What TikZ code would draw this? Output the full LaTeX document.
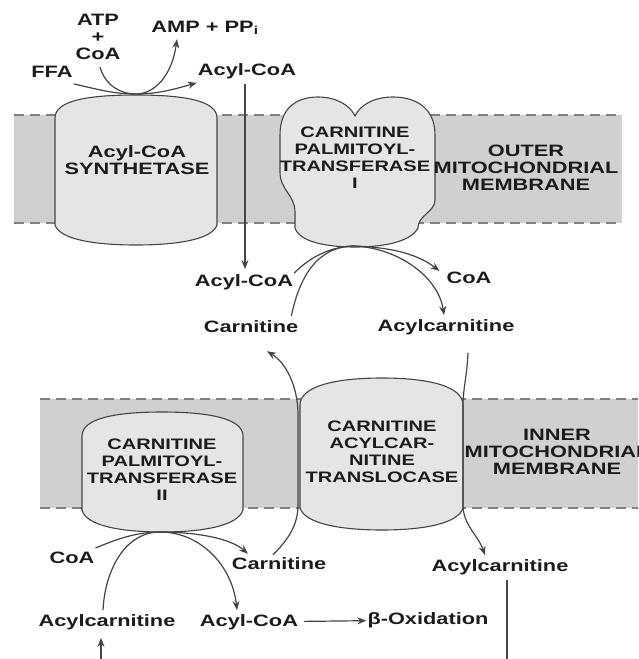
\documentclass[tikz,border=0pt]{standalone}
\usepackage{fontspec}
\setmainfont{Liberation Sans}[FakeStretch=1.32]
\usepackage{tikz}
\usetikzlibrary{arrows.meta}
\usetikzlibrary{backgrounds}
\definecolor{bandgray}{HTML}{D0D0D0}
\definecolor{enzgray}{HTML}{E5E5E5}
\definecolor{linegray}{HTML}{444444}
\definecolor{txtgray}{HTML}{1C1C1C}
\tikzstyle{lbl}=[font=\bfseries\fontsize{16.5}{17}\selectfont, text=txtgray, inner sep=1pt, align=center]
\tikzstyle{enzlbl}=[lbl, font=\bfseries\fontsize{15.2}{17}\selectfont]
\tikzstyle{enzyme}=[fill=enzgray, draw=linegray, line width=1.1pt]
\tikzstyle{band}=[fill=bandgray]
\tikzstyle{dashline}=[draw=gray, line width=1.3pt, dash pattern=on 10pt off 6pt]
\tikzstyle{rxn}=[draw=linegray, line width=1.2pt, -{Stealth[length=9pt,width=7pt]}]

\begin{document}
\begin{tikzpicture}[x=1pt,y=-1pt]
\useasboundingbox (0,0) rectangle (638,659);

\begin{pgfonlayer}{background}
\fill[band] (14,115) rectangle (622,223);
\draw[dashline] (14,115) -- (622,115) (14,223) -- (622,223);
\fill[band] (40,399) rectangle (638,508);
\draw[dashline] (40,399) -- (638,399) (40,508) -- (638,508);
\end{pgfonlayer}

% enzymes
\draw[enzyme] (55,225) -- (55,118) .. controls (55,100) and (90,95) .. (136,95)
  .. controls (182,95) and (217,100) .. (217,118) -- (217,225)
  .. controls (212,240) and (175,245) .. (136,245) .. controls (97,245) and (60,240) .. cycle;
\draw[enzyme] (280,172) -- (280,135) .. controls (280,105) and (300,97) .. (318,97)
  .. controls (336,97) and (350,105) .. (355,116) .. controls (360,105) and (374,97) .. (393,97)
  .. controls (412,97) and (435,105) .. (435,135) -- (435,200)
  .. controls (435,212) and (418,215) .. (418,228) .. controls (410,243) and (380,247) .. (355,247)
  .. controls (330,247) and (300,243) .. (295,228) -- (295,212)
  .. controls (295,195) and (280,190) .. cycle;
\draw[enzyme] (82,510) -- (82,436) .. controls (82,418) and (117,412) .. (162,412)
  .. controls (207,412) and (243,418) .. (243,436) -- (243,510)
  .. controls (238,526) and (202,532) .. (162,532) .. controls (122,532) and (86,526) .. cycle;
\draw[enzyme] (300,508) -- (300,405) .. controls (300,386) and (336,378) .. (382,378)
  .. controls (428,378) and (463,386) .. (463,405) -- (463,508)
  .. controls (458,524) and (422,530) .. (382,530) .. controls (342,530) and (305,524) .. cycle;

\node[lbl] (synth) at (137,160) {Acyl-CoA\\SYNTHETASE};
\node[enzlbl] (cpt1) at (355,158) {CARNITINE\\PALMITOYL-\\TRANSFERASE\\I};
\node[lbl] (outer) at (526,168) {OUTER\\MITOCHONDRIAL\\MEMBRANE};
\node[enzlbl] (transloc) at (382,452) {CARNITINE\\ACYLCAR-\\NITINE\\TRANSLOCASE};
\node[lbl] (inner) at (557,452) {INNER\\MITOCHONDRIAL\\MEMBRANE};
\node[enzlbl] (cpt2) at (162,470) {CARNITINE\\PALMITOYL-\\TRANSFERASE\\II};

% metabolites
\node[lbl] (atp) at (98,37) {ATP\\+\\CoA};
\node[lbl] (ffa) at (52,72) {FFA};
\node[lbl] (amp) at (205,28) {AMP + PP\textsubscript{i}};
\node[lbl] (acyl1) at (247,71) {Acyl-CoA};
\node[lbl] (acyl2) at (244,282) {Acyl-CoA};
\node[lbl] (coa1) at (469,278) {CoA};
\node[lbl] (carn1) at (251,327) {Carnitine};
\node[lbl] (acylcarn1) at (446,327) {Acylcarnitine};
\node[lbl] (coa2) at (72,558) {CoA};
\node[lbl] (carn2) at (279,564) {Carnitine};
\node[lbl] (acylcarn2) at (500,567) {Acylcarnitine};
\node[lbl] (acylcarn3) at (107,622) {Acylcarnitine};
\node[lbl] (acyl3) at (249,622) {Acyl-CoA};
\node[lbl] (beta) at (428,620) {β-Oxidation};
\coordinate (syntop) at (136,94);
\coordinate (cpt1b) at (353,246);
\coordinate (cpt2b) at (160,532);
\coordinate (outA) at (507,659);
\coordinate (inA) at (101,659);

% reactions
\draw[rxn] ([yshift=-5pt]ffa.south east) .. controls (100,90) and (115,94) .. (syntop)
  .. controls (160,94) and (178,88) .. ([yshift=-3pt]acyl1.south west);
\draw[rxn] ([xshift=2pt,yshift=-6pt]atp.south) .. controls (105,85) and (120,94) .. (syntop)
  .. controls (155,94) and (172,75) .. ([xshift=-28pt,yshift=-3pt]amp.south);
\draw[rxn] ([xshift=-2pt,yshift=-4pt]acyl1.south) -- ([xshift=1pt,yshift=4pt]acyl2.north);
\draw[rxn] (acyl2.north east) .. controls (305,262) and (325,247) .. (cpt1b)
  .. controls (385,247) and (415,252) .. ([xshift=-6pt]coa1.north west);
\draw[rxn] ([xshift=-8pt,yshift=4pt]carn1.north east) .. controls (300,275) and (318,247) .. (cpt1b)
  .. controls (395,247) and (438,275) .. ([xshift=-2pt,yshift=3pt]acylcarn1.north);
\draw[rxn] ([xshift=-6pt,yshift=2pt]carn2.north) .. controls (288,540) and (298,525) .. (298,505) -- (298,415)
  .. controls (298,385) and (285,362) .. ([xshift=16pt,yshift=-17pt]carn1.south);
\draw[rxn] ([xshift=22pt,yshift=-17pt]acylcarn1.south) .. controls (467,375) and (463,390) .. (463,405) -- (463,505)
  .. controls (463,525) and (478,535) .. ([xshift=-15pt,yshift=3pt]acylcarn2.north);
\draw[rxn] ([xshift=-4pt,yshift=3pt]acylcarn3.north) .. controls (105,570) and (125,532) .. (cpt2b)
  .. controls (200,532) and (232,565) .. ([xshift=-12pt,yshift=3pt]acyl3.north);
\draw[rxn] ([yshift=3pt]coa2.north east) .. controls (115,540) and (135,532) .. (cpt2b)
  .. controls (195,532) and (230,538) .. ([xshift=-31pt,yshift=3pt]carn2.north);
\draw[rxn, shorten <=5pt] (acyl3) -- (beta);
\draw[draw=linegray, line width=1.4pt] ([xshift=7pt,yshift=-4pt]acylcarn2.south) -- (outA);
\draw[rxn] (inA) -- ([xshift=-6pt,yshift=-7pt]acylcarn3.south);
\end{tikzpicture}
\end{document}
